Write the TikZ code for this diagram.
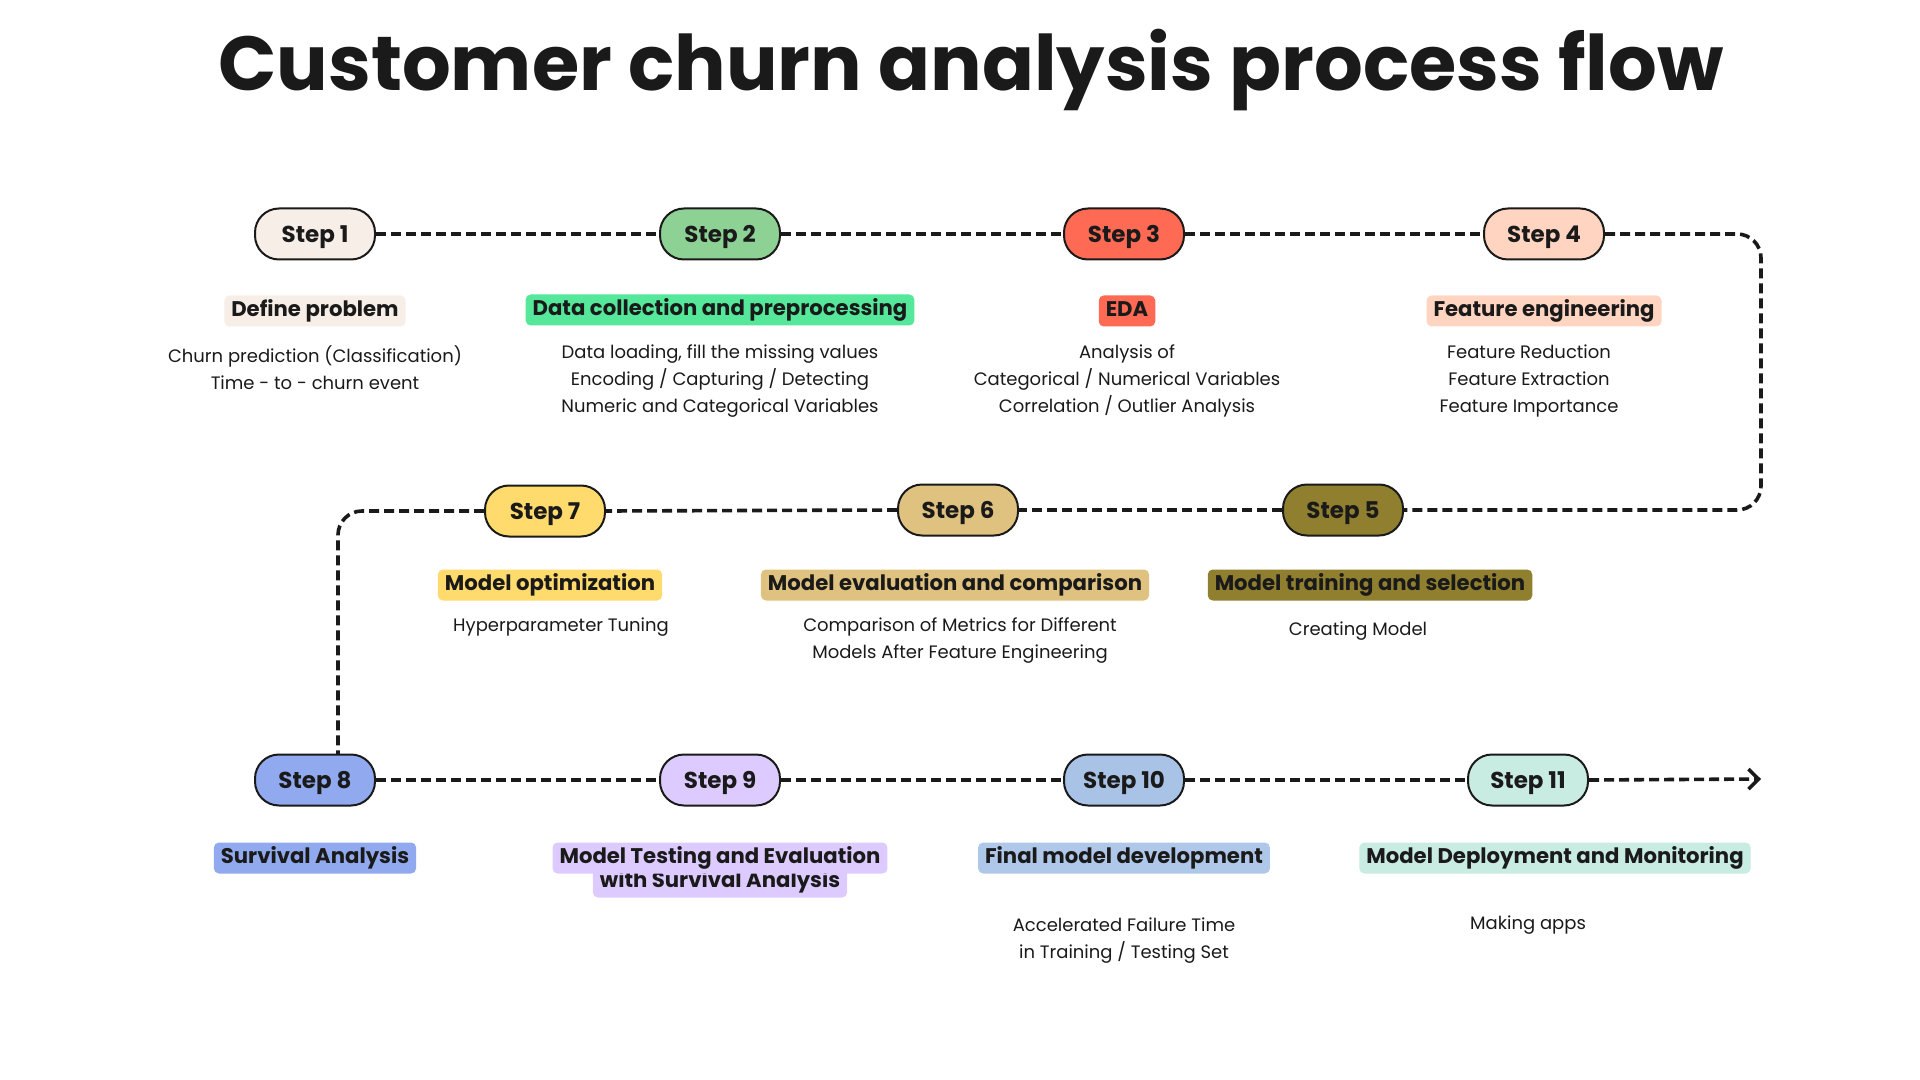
\documentclass[tikz,border=0pt]{standalone}
\usepackage{fontspec}
\setmainfont{Poppins}
\usepackage{tikz}
\usetikzlibrary{calc, arrows.meta}

\definecolor{ink}{HTML}{1A1A1A}
\definecolor{cone}{HTML}{F8EEE8}
\definecolor{ctwo}{HTML}{8ED195}
\definecolor{ctwol}{HTML}{55E89A}
\definecolor{cthree}{HTML}{FF6A55}
\definecolor{cfour}{HTML}{FFD5C2}
\definecolor{cfive}{HTML}{8F7F2F}
\definecolor{csix}{HTML}{DFC27F}
\definecolor{cseven}{HTML}{FFDA6C}
\definecolor{ceight}{HTML}{91A9EF}
\definecolor{cnine}{HTML}{DDCBFF}
\definecolor{cten}{HTML}{A9C3E6}
\definecolor{ctenl}{HTML}{AFC7E8}
\definecolor{celeven}{HTML}{C8EBE2}

\tikzset{
  pill/.style={draw=ink, line width=1pt, rounded corners=12pt, minimum width=60pt,
    minimum height=25.5pt, text height=8.2pt, text depth=0pt,
    font=\bfseries\fontsize{11.5}{13}\selectfont, text=ink},
  tag/.style={rounded corners=2.5pt, inner xsep=3.5pt, inner ysep=2.5pt, text height=8pt,
    text depth=2.5pt, font=\bfseries\fontsize{10.6}{12}\selectfont, text=ink},
  desc/.style={align=center, font=\fontsize{9}{13.5}\selectfont, text=ink},
  flow/.style={draw=ink, line width=1.8pt, dash pattern=on 5pt off 2.5pt, rounded corners=12pt}
}

\begin{document}
\begin{tikzpicture}[x=0.5pt, y=-0.5pt]
    \useasboundingbox (0,0) rectangle (1920,1080);
    % Title
    \node[font=\bfseries\fontsize{38.3}{42}\selectfont, text=ink] (title) at (971,70) {Customer churn analysis process flow};

    % First row
    \node[pill, fill=cone] (s1) at (315,234) {Step 1};
    \node[pill, fill=ctwo] (s2) at (720,234) {Step 2};
    \node[pill, fill=cthree] (s3) at (1124,234) {Step 3};
    \node[pill, fill=cfour] (s4) at (1544,234) {Step 4};
    \node[tag, fill=cone] (l1) at (315,311) {Define problem};
    \node[tag, fill=ctwol] (l2) at (720,310) {Data collection and preprocessing};
    \node[tag, fill=cthree] (l3) at (1127,311) {EDA};
    \node[tag, fill=cfour] (l4) at (1544,311) {Feature engineering};
    \node[desc] (d1) at (315,368) {Churn prediction (Classification)\\Time - to - churn event};
    \node[desc] (d2) at (720,381) {Data loading, fill the missing values\\Encoding / Capturing / Detecting\\Numeric and Categorical Variables};
    \node[desc] (d3) at (1127,381) {Analysis of\\Categorical / Numerical Variables\\Correlation / Outlier Analysis};
    \node[desc] (d4) at (1529,381) {Feature Reduction\\Feature Extraction\\Feature Importance};

    % Second row, right to left
    \node[pill, fill=cfive] (s5) at (1343,510) {Step 5};
    \node[pill, fill=csix] (s6) at (958,510) {Step 6};
    \node[pill, fill=cseven] (s7) at (545,511) {Step 7};
    \node[tag, fill=cfive] (l5) at (1370,585) {Model training and selection};
    \node[tag, fill=csix] (l6) at (955,585) {Model evaluation and comparison};
    \node[tag, fill=cseven] (l7) at (550,585) {Model optimization};
    \node[desc] (d5) at (1358,631) {Creating Model};
    \node[desc] (d6) at (960,641) {Comparison of Metrics for Different\\Models After Feature Engineering};
    \node[desc] (d7) at (561,627) {Hyperparameter Tuning};

    % Third row
    \node[pill, fill=ceight] (s8) at (315,780) {Step 8};
    \node[pill, fill=cnine] (s9) at (720,780) {Step 9};
    \node[pill, fill=cten] (s10) at (1124,780) {Step 10};
    \node[pill, fill=celeven] (s11) at (1528,780) {Step 11};
    \node[tag, fill=ceight] (l8) at (315,858) {Survival Analysis};
    \node[tag, fill=cnine] (l9b) at (720,882) {with Survival Analysis};
    \node[tag, fill=cnine] (l9a) at (720,858) {Model Testing and Evaluation};
    \node[tag, fill=ctenl] (l10) at (1124,858) {Final model development};
    \node[tag, fill=celeven] (l11) at (1555,858) {Model Deployment and Monitoring};
    \node[desc] (d10) at (1124,941) {Accelerated Failure Time\\in Training / Testing Set};
    \node[desc] (d11) at (1528,925) {Making apps};

    % Turning points and the free end
    \coordinate (rturn) at (1761,370);
    \coordinate (lturn) at (338,754);
    \coordinate (tail) at (1761,779);

    % Dashed path through the steps
    \draw[flow] (s1.east) -- (s2.west);
    \draw[flow] (s2.east) -- (s3.west);
    \draw[flow] (s3.east) -- (s4.west);
    \draw[flow] (s4.east) -| (rturn) |- (s5.east);
    \draw[flow] (s5.west) -- (s6.east);
    \draw[flow] (s6.west) -- (s7.east);
    \draw[flow] (s7.west) -| (lturn);
    \draw[flow] (s8.east) -- (s9.west);
    \draw[flow] (s9.east) -- (s10.west);
    \draw[flow] (s10.east) -- (s11.west);
    \draw[flow, -{Straight Barb[length=5pt, width=10pt]}] (s11.east) -- (tail);
\end{tikzpicture}
\end{document}
